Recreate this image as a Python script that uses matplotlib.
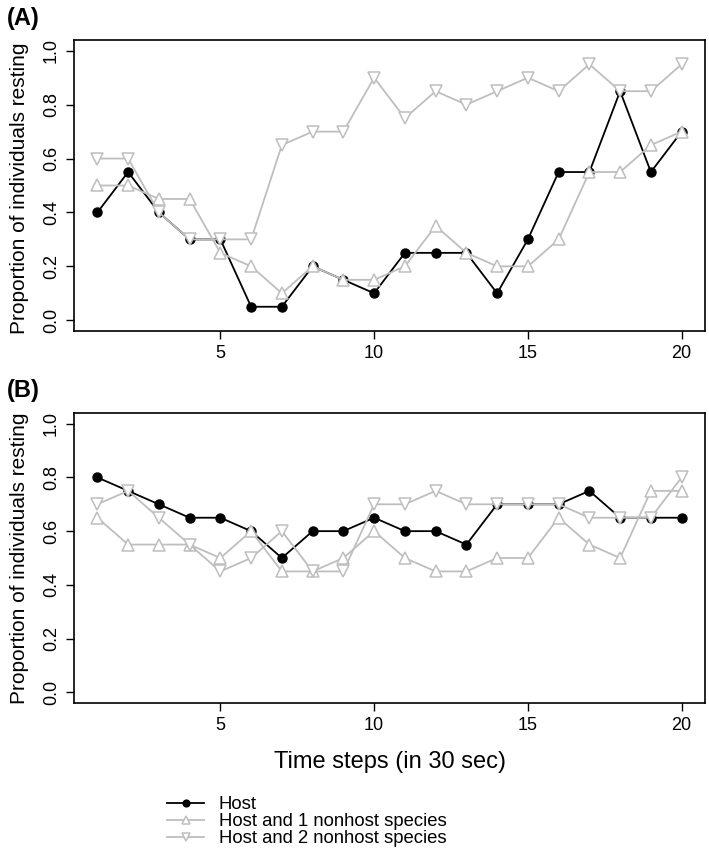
import matplotlib
matplotlib.use('Agg')
import matplotlib.pyplot as plt
import numpy as np

plt.rcParams['font.family'] = ['Liberation Sans', 'DejaVu Sans']

# time steps (30 s each)
steps = np.arange(1, 21)

# panel A
host_a = [0.40, 0.55, 0.40, 0.30, 0.30, 0.05, 0.05, 0.20, 0.15, 0.10,
          0.25, 0.25, 0.25, 0.10, 0.30, 0.55, 0.55, 0.85, 0.55, 0.70]
host1_a = [0.50, 0.50, 0.45, 0.45, 0.25, 0.20, 0.10, 0.20, 0.15, 0.15,
           0.20, 0.35, 0.25, 0.20, 0.20, 0.30, 0.55, 0.55, 0.65, 0.70]
host2_a = [0.60, 0.60, 0.40, 0.30, 0.30, 0.30, 0.65, 0.70, 0.70, 0.90,
           0.75, 0.85, 0.80, 0.85, 0.90, 0.85, 0.95, 0.85, 0.85, 0.95]

# panel B
host_b = [0.80, 0.75, 0.70, 0.65, 0.65, 0.60, 0.50, 0.60, 0.60, 0.65,
          0.60, 0.60, 0.55, 0.70, 0.70, 0.70, 0.75, 0.65, 0.65, 0.65]
host1_b = [0.65, 0.55, 0.55, 0.55, 0.50, 0.60, 0.45, 0.45, 0.50, 0.60,
           0.50, 0.45, 0.45, 0.50, 0.50, 0.65, 0.55, 0.50, 0.75, 0.75]
host2_b = [0.70, 0.75, 0.65, 0.55, 0.45, 0.50, 0.60, 0.45, 0.45, 0.70,
           0.70, 0.75, 0.70, 0.70, 0.70, 0.70, 0.65, 0.65, 0.65, 0.80]

labels = ['Host', 'Host and 1 nonhost species', 'Host and 2 nonhost species']
yticks = [0.0, 0.2, 0.4, 0.6, 0.8, 1.0]
xticks = [5, 10, 15, 20]

grey = '#bebebe'

W, H = 709, 851
fig = plt.figure(figsize=(W / 100, H / 100), dpi=100)
ax_a = fig.add_axes([74 / W, 1 - 331 / H, 631 / W, 291 / H])
ax_b = fig.add_axes([74 / W, 1 - 703 / H, 631 / W, 290 / H])


def draw(ax, host, host1, host2):
    # host first, the open triangles go on top of it
    l0, = ax.plot(steps, host, color='black', lw=1.3, marker='o', ms=6.5,
                  label=labels[0], zorder=2)
    l1, = ax.plot(steps, host1, color=grey, lw=1.3, marker='^', ms=8,
                  mfc='white', mec=grey, mew=1.1, label=labels[1], zorder=3)
    l2, = ax.plot(steps, host2, color=grey, lw=1.3, marker='v', ms=8,
                  mfc='white', mec=grey, mew=1.1, label=labels[2], zorder=4)
    ax.set_xlim(0.24, 20.76)
    ax.set_ylim(-0.04, 1.04)
    ax.set_xticks(xticks)
    ax.set_yticks(yticks)
    ax.set_yticklabels(['%.1f' % v for v in yticks], rotation=90, va='center')
    ax.tick_params(direction='out', length=6, width=1, labelsize=13, pad=4)
    for s in ax.spines.values():
        s.set_linewidth(1.2)
    return [l0, l1, l2]


handles = draw(ax_a, host_a, host1_a, host2_a)
draw(ax_b, host_b, host1_b, host2_b)

ylab = 'Proportion of individuals resting'
fig.text(20 / W, 1 - 188 / H, ylab, fontsize=15, rotation=90,
         ha='center', va='center')
fig.text(20 / W, 1 - 558 / H, ylab, fontsize=15, rotation=90,
         ha='center', va='center')
fig.text(389.5 / W, 1 - 762 / H, 'Time steps (in 30 sec)', fontsize=17,
         ha='center', va='center')

fig.text(7 / W, 1 - 18 / H, '(A)', fontsize=17, fontweight='bold', va='center')
fig.text(7 / W, 1 - 391 / H, '(B)', fontsize=17, fontweight='bold', va='center')

leg = fig.legend(handles, labels, loc='upper left', frameon=False,
                 bbox_to_anchor=(158 / W, 1 - 787 / H), fontsize=13.3,
                 handlelength=2.0, handletextpad=0.8, labelspacing=0.0,
                 borderpad=0, markerscale=0.75)

fig.savefig('out.png', dpi=100)
